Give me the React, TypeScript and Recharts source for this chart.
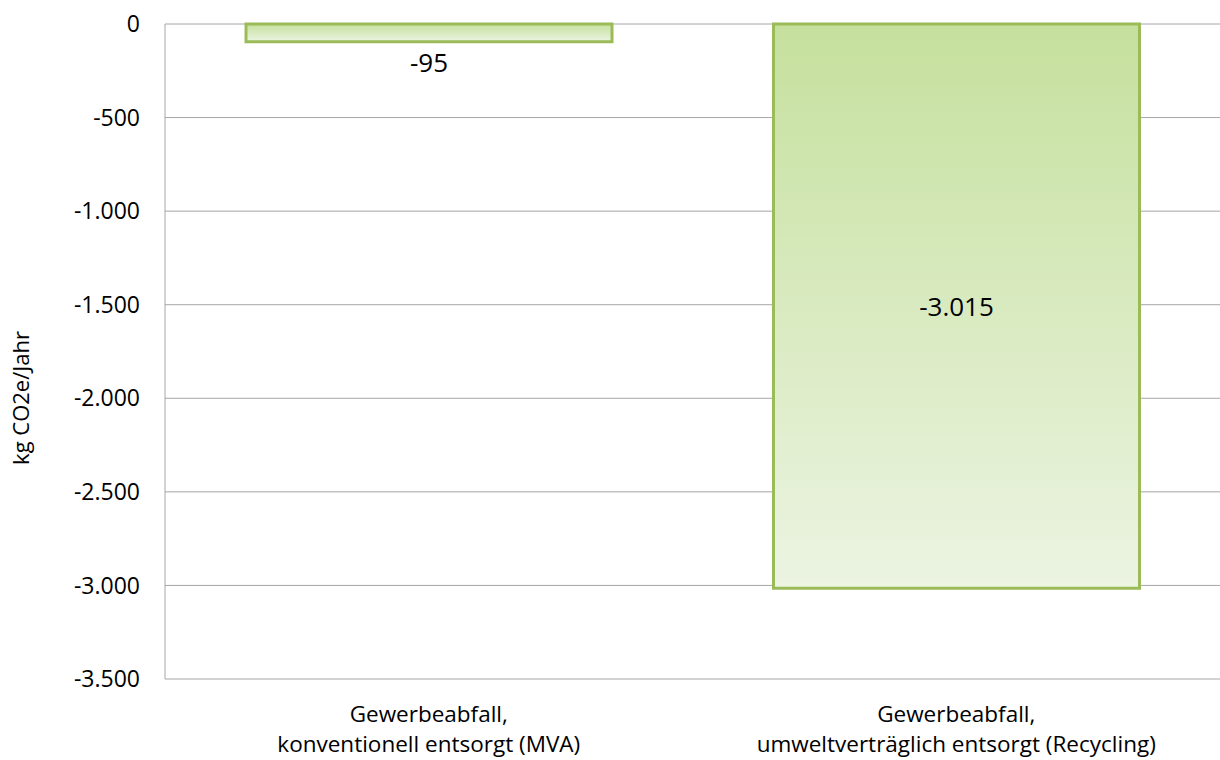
import React from 'react';
import {
  BarChart, Bar, XAxis, YAxis, CartesianGrid, LabelList,
} from 'recharts';

const CATEGORIES = [
  'Gewerbeabfall, konventionell entsorgt (MVA)',
  'Gewerbeabfall, umweltverträglich entsorgt (Recycling)',
];
const VALUES = [-95, -3015];
const Y_TICKS = [0, -500, -1000, -1500, -2000, -2500, -3000, -3500];

const FONT = '"Open Sans", sans-serif';

const data = CATEGORIES.map((name, i) => ({ name, value: VALUES[i] }));

function de(n: number) {
  return n.toLocaleString('de-DE');
}

function XTick({ x, y, payload }: any) {
  const parts = String(payload.value).split(', ');
  return (
    <g>
      <text x={x} y={y + 35} textAnchor="middle" fontFamily={FONT} fontSize={22.5} fill="#000">
        {parts[0] + ','}
      </text>
      <text x={x} y={y + 65} textAnchor="middle" fontFamily={FONT} fontSize={22.5} fill="#000">
        {parts[1]}
      </text>
    </g>
  );
}

function ValueLabel({ x, y, width, height, value }: any) {
  const top = Math.min(y, y + height);
  const h = Math.abs(height);
  const cx = x + width / 2;
  // small bars get the label underneath
  const cy = h < 60 ? top + h + 20 : top + h / 2;
  return (
    <text x={cx} y={cy} textAnchor="middle" dominantBaseline="central"
      fontFamily={FONT} fontSize={26} fill="#000">
      {de(value)}
    </text>
  );
}

export default function App() {
  return (
    <div style={{ position: 'absolute', left: 0, top: 0, background: '#fff' }}>
      <BarChart width={1220} height={760} data={data}
        margin={{ top: 24, right: 0, bottom: 0, left: 0 }}>
        <defs>
          <linearGradient id="greenFill" x1="0" y1="0" x2="0" y2="1">
            <stop offset="0%" stopColor="#c5e09d" />
            <stop offset="100%" stopColor="#ecf4e2" />
          </linearGradient>
        </defs>
        <CartesianGrid vertical={false} stroke="#a6a6a6" strokeWidth={1} />
        <XAxis dataKey="name" axisLine={false} tickLine={false} tick={<XTick />}
          interval={0} height={81} />
        <YAxis width={165} domain={[-3500, 0]} ticks={Y_TICKS} tickFormatter={de}
          axisLine={{ stroke: '#a6a6a6' }} tickLine={false} tickMargin={19}
          tick={{ fontFamily: FONT, fontSize: 23, fill: '#000' }}
          label={{
            content: () => (
              <text x={20} y={398} transform="rotate(-90 20 398)" textAnchor="middle"
                dominantBaseline="central" fontFamily={FONT} fontSize={22} fill="#000">
                kg CO2e/Jahr
              </text>
            ),
          }} />
        <Bar dataKey="value" fill="url(#greenFill)" stroke="#9bbb59" strokeWidth={3}
          barSize={366} isAnimationActive={false}>
          <LabelList dataKey="value" content={<ValueLabel />} />
        </Bar>
      </BarChart>
    </div>
  );
}
